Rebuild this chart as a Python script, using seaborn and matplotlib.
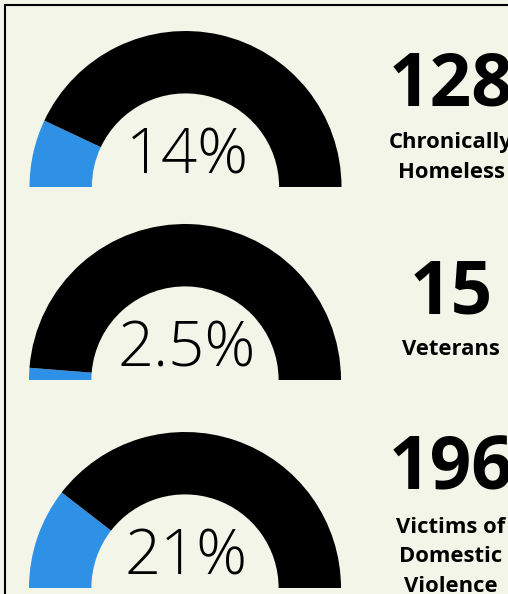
import matplotlib
matplotlib.use("Agg")
import matplotlib.pyplot as plt
import seaborn as sns
from matplotlib.patches import Rectangle

# ---- data ----
percents = [14, 2.5, 21]
counts = [128, 15, 196]
labels = ["Chronically\nHomeless", "Veterans", "Victims of\nDomestic\nViolence"]

BG = "#f3f5e8"
BLUE = "#2f91e6"

sns.set_theme(style="white", rc={"figure.facecolor": BG, "axes.facecolor": "none"})
plt.rcParams["font.family"] = ["Open Sans", "DejaVu Sans"]

W, H = 508, 594
fig = plt.figure(figsize=(W / 100, H / 100), dpi=100)
fig.patch.set_facecolor(BG)

# border (extends beyond the right/bottom edge as in the reference)
fig.patches.append(Rectangle((5 / W, -0.1), 1.2, 1 - 5 / H + 0.1, transform=fig.transFigure,
                             fill=False, edgecolor="black", linewidth=1.5, clip_on=False))

R = 156
centers = [(185.5, 187), (185, 380), (185, 588)]
num_baselines = [105, 314, 490]
label_first_baselines = [148, 355, 533]
line_step = 29.5
text_x = 451

pal = [BLUE, "black", "none"]
for pct, cnt, lab, (cx, cy), nb, lb in zip(percents, counts, labels, centers,
                                          num_baselines, label_first_baselines):
    ax = fig.add_axes([(cx - R) / W, 1 - cy / H, 2 * R / W, R / H])
    ax.pie([pct, 100 - pct, 100], colors=pal, startangle=180, counterclock=False,
           radius=1, wedgeprops=dict(width=0.4, linewidth=0), frame=False)
    ax.set_xlim(-1, 1)
    ax.set_ylim(0, 1)
    ax.set_aspect("equal")
    ax.axis("off")
    ax.text(0.01, 0.085, f"{pct:g}%", ha="center", va="baseline", fontsize=45.5,
            fontweight="light", color="black")

    fig.text(text_x / W, 1 - nb / H, f"{cnt}", ha="center", va="baseline",
             fontsize=52.5, fontweight="bold", color="black")
    for i, line in enumerate(lab.split("\n")):
        fig.text(text_x / W, 1 - (lb + i * line_step) / H, line, ha="center",
                 va="baseline", fontsize=15.8, fontweight="bold", color="black")

fig.savefig("out.png", dpi=100, facecolor=BG)
